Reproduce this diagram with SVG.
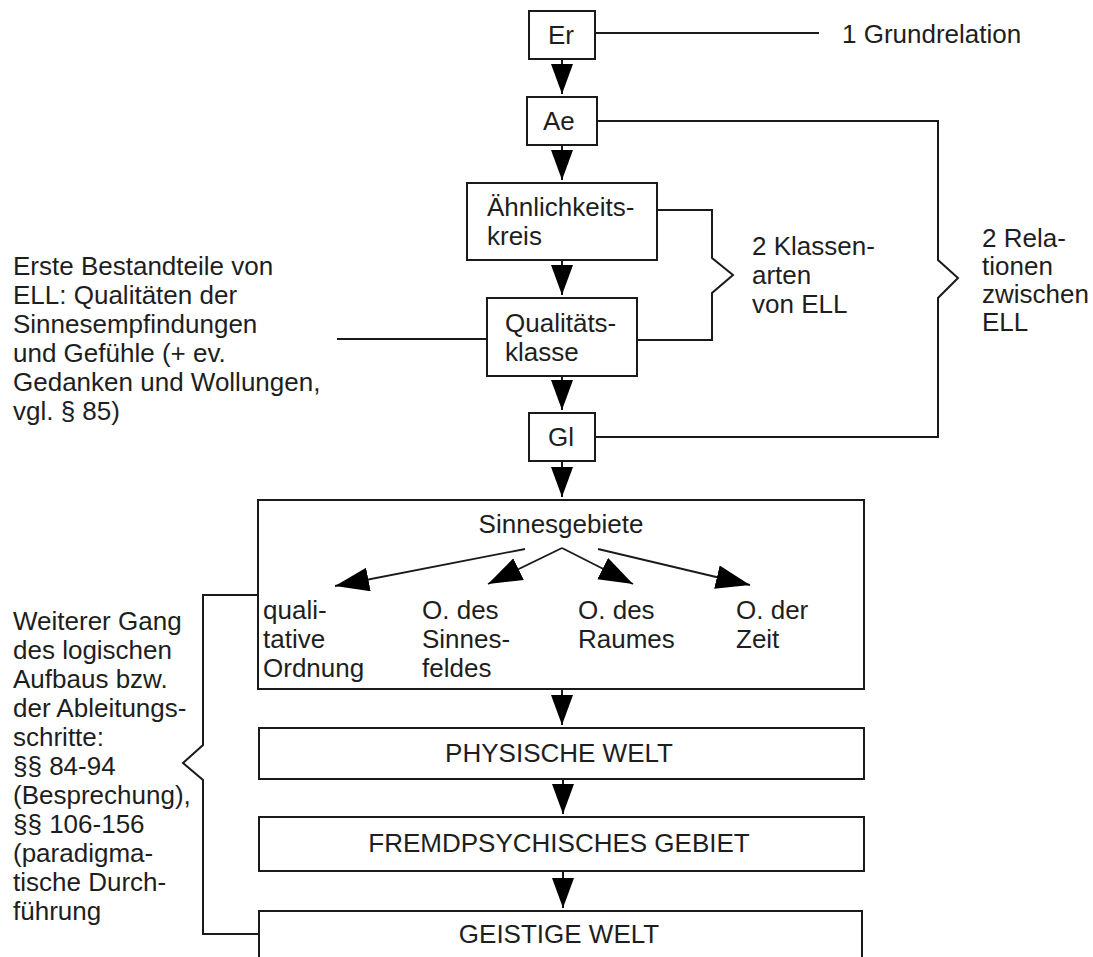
<svg xmlns="http://www.w3.org/2000/svg" width="1093" height="957" viewBox="0 0 1093 957">
  <style>
    .box { fill: #ffffff; stroke: #1a1a1a; stroke-width: 2; }
    .ln { fill: none; stroke: #1a1a1a; stroke-width: 2; }
    .ar { fill: none; stroke: #1a1a1a; stroke-width: 2; marker-end: url(#head); }
    .br { fill: none; stroke: #1a1a1a; stroke-width: 1.8; marker-end: url(#head-big); }
    text { font-family: "Liberation Sans", Arial, sans-serif; font-size: 26px; fill: #1e1e1e; }
    .c { text-anchor: middle; }
  </style>
  <defs>
    <marker id="head" markerUnits="userSpaceOnUse" markerWidth="32" markerHeight="24" refX="30" refY="11" orient="auto">
      <path d="M0,0 L30,11 L0,22 z" fill="#000000"/>
    </marker>
    <marker id="head-big" markerUnits="userSpaceOnUse" markerWidth="36" markerHeight="26" refX="34" refY="12" orient="auto">
      <path d="M0,0 L34,12 L0,24 z" fill="#000000"/>
    </marker>
  </defs>
  <rect width="1093" height="957" fill="#ffffff"/>

  <!-- connectors between the nodes, leaders and braces -->
  <g id="connectors">
    <line class="ar" x1="562" y1="59" x2="562" y2="94"/>
    <line class="ar" x1="562" y1="145" x2="562" y2="180"/>
    <line class="ar" x1="562" y1="260" x2="562" y2="295"/>
    <line class="ar" x1="562" y1="376" x2="562" y2="410"/>
    <line class="ar" x1="562" y1="461" x2="562" y2="497"/>
    <line class="ar" x1="562" y1="689" x2="562" y2="725"/>
    <line class="ar" x1="563" y1="779" x2="563" y2="814"/>
    <line class="ar" x1="563" y1="871" x2="563" y2="908"/>

    <line class="ln" x1="595" y1="33" x2="819" y2="33"/>
    <line class="ln" x1="337" y1="339" x2="487" y2="339"/>
    <polyline class="ln" points="657,210 712,210 712,258 733,275 712,293 712,340 637,340"/>
    <polyline class="ln" points="597,121 938,121 938,260 958,278 938,298 938,437 595,437"/>
    <polyline class="ln" points="258,595 203,595 203,745 183,763 203,780 203,934 258,934"/>
  </g>

  <g id="node-er">
    <rect class="box" x="529" y="11" width="66" height="48"/>
    <text x="548" y="44">Er</text>
  </g>
  <g id="node-ae">
    <rect class="box" x="527" y="97" width="70" height="48"/>
    <text x="543" y="130">Ae</text>
  </g>
  <g id="node-aehnlichkeitskreis">
    <rect class="box" x="467" y="183" width="190" height="77"/>
    <text x="487" y="216">Ähnlichkeits-</text>
    <text x="487" y="245">kreis</text>
  </g>
  <g id="node-qualitaetsklasse">
    <rect class="box" x="487" y="298" width="150" height="78"/>
    <text x="505" y="332">Qualitäts-</text>
    <text x="505" y="361">klasse</text>
  </g>
  <g id="node-gl">
    <rect class="box" x="529" y="413" width="66" height="48"/>
    <text x="548" y="446">Gl</text>
  </g>
  <g id="node-sinnesgebiete">
    <rect class="box" x="258" y="500" width="606" height="189"/>
    <text class="c" x="561" y="533">Sinnesgebiete</text>
    <!-- the four orderings branching out of the sense domains -->
    <g id="sinnes-branches">
      <line class="br" x1="525" y1="549" x2="335" y2="586"/>
      <line class="br" x1="562" y1="548" x2="488" y2="584"/>
      <line class="br" x1="562" y1="548" x2="633" y2="584"/>
      <line class="br" x1="598" y1="549" x2="750" y2="585"/>
    </g>
    <text x="263" y="619">quali-</text>
    <text x="263" y="648">tative</text>
    <text x="263" y="677">Ordnung</text>
    <text x="422" y="619">O. des</text>
    <text x="422" y="648">Sinnes-</text>
    <text x="422" y="677">feldes</text>
    <text x="578" y="619">O. des</text>
    <text x="578" y="648">Raumes</text>
    <text x="736" y="619">O. der</text>
    <text x="736" y="648">Zeit</text>
  </g>
  <g id="node-physische-welt">
    <rect class="box" x="259" y="728" width="605" height="51"/>
    <text class="c" x="559" y="762">PHYSISCHE WELT</text>
  </g>
  <g id="node-fremdpsychisches-gebiet">
    <rect class="box" x="259" y="817" width="605" height="54"/>
    <text class="c" x="559" y="852">FREMDPSYCHISCHES GEBIET</text>
  </g>
  <g id="node-geistige-welt">
    <rect class="box" x="259" y="911" width="603" height="60"/>
    <text class="c" x="559" y="943">GEISTIGE WELT</text>
  </g>

  <g id="label-grundrelation">
    <text x="842" y="43">1 Grundrelation</text>
  </g>
  <g id="label-klassenarten">
    <text x="752" y="255">2 Klassen-</text>
    <text x="752" y="284">arten</text>
    <text x="752" y="313">von ELL</text>
  </g>
  <g id="label-relationen">
    <text x="982" y="247">2 Rela-</text>
    <text x="982" y="275">tionen</text>
    <text x="982" y="303">zwischen</text>
    <text x="982" y="331">ELL</text>
  </g>
  <g id="label-bestandteile">
    <text x="13" y="275">Erste Bestandteile von</text>
    <text x="13" y="304">ELL: Qualitäten der</text>
    <text x="13" y="333">Sinnesempfindungen</text>
    <text x="13" y="362">und Gefühle (+ ev.</text>
    <text x="13" y="391">Gedanken und Wollungen,</text>
    <text x="13" y="420">vgl. § 85)</text>
  </g>
  <g id="label-weiterer-gang">
    <text x="13" y="630">Weiterer Gang</text>
    <text x="13" y="659">des logischen</text>
    <text x="13" y="688">Aufbaus bzw.</text>
    <text x="13" y="717">der Ableitungs-</text>
    <text x="13" y="746">schritte:</text>
    <text x="13" y="775">§§ 84-94</text>
    <text x="13" y="804">(Besprechung),</text>
    <text x="13" y="833">§§ 106-156</text>
    <text x="13" y="862">(paradigma-</text>
    <text x="13" y="891">tische Durch-</text>
    <text x="13" y="920">führung</text>
  </g>
</svg>
